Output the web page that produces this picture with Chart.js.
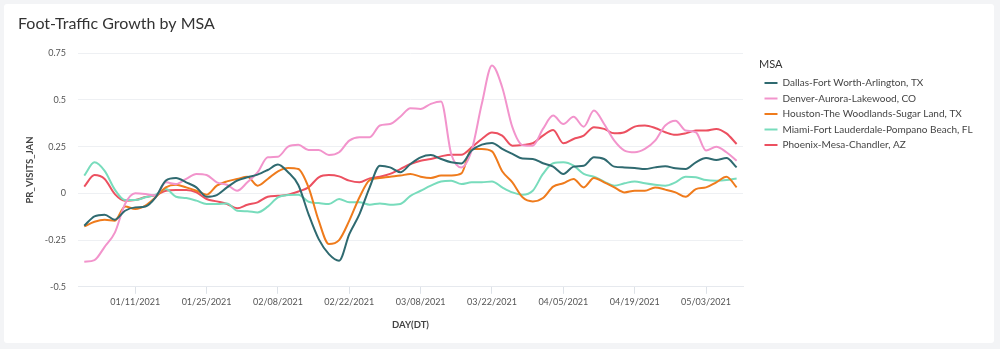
<!DOCTYPE html>
<html>
<head>
<meta charset="utf-8">
<script src="https://cdn.jsdelivr.net/npm/chart.js@4.4.1/dist/chart.umd.min.js"></script>
<style>
    html, body { margin: 0; padding: 0; background: #f3f4f6; }
    #card { position: absolute; left: 4px; top: 4px; width: 990px; height: 339px; background: #fff; border-radius: 3px; }
    #wrap { position: absolute; left: 0; top: 0; width: 1000px; height: 349px; }
</style>
</head>
<body>
<div id="card"></div>
<div id="wrap"><canvas id="chart" width="1000" height="349"></canvas></div>
<script>
// one value every 2 days, starting 2021-01-01
const START_DATE = "2021-01-01";
const STEP_DAYS = 2;

const msaNames = [
    "Dallas-Fort Worth-Arlington, TX",
    "Denver-Aurora-Lakewood, CO",
    "Houston-The Woodlands-Sugar Land, TX",
    "Miami-Fort Lauderdale-Pompano Beach, FL",
    "Phoenix-Mesa-Chandler, AZ"
];
const msaColors = ["#2f6a70", "#f294cc", "#ef7b1c", "#78dcbc", "#ec5060"];

const dallas = [
    -0.173, -0.123, -0.114, -0.141, -0.093, -0.075, -0.070, -0.021, 0.068, 0.082,
    0.059, 0.032, -0.018, -0.009, 0.032, 0.068, 0.086, 0.100, 0.125, 0.154,
    0.113, 0.045, -0.111, -0.245, -0.325, -0.360, -0.218, -0.111, 0.032, 0.148,
    0.139, 0.113, 0.157, 0.193, 0.205, 0.184, 0.166, 0.160, 0.229, 0.261,
    0.270, 0.238, 0.211, 0.186, 0.184, 0.161, 0.143, 0.104, 0.143, 0.148,
    0.193, 0.184, 0.143, 0.139, 0.136, 0.130, 0.139, 0.145, 0.134, 0.130,
    0.166, 0.189, 0.179, 0.189, 0.139
];
const denver = [
    -0.366, -0.357, -0.286, -0.210, -0.057, 0.000, -0.004, -0.012, 0.059, 0.050,
    0.077, 0.104, 0.098, 0.059, 0.046, 0.014, 0.059, 0.112, 0.193, 0.196,
    0.250, 0.260, 0.232, 0.232, 0.205, 0.220, 0.282, 0.300, 0.300, 0.363,
    0.371, 0.410, 0.455, 0.452, 0.479, 0.492, 0.211, 0.139, 0.229, 0.479,
    0.684, 0.568, 0.354, 0.258, 0.255, 0.345, 0.416, 0.371, 0.410, 0.357,
    0.443, 0.371, 0.282, 0.229, 0.220, 0.238, 0.282, 0.363, 0.389, 0.336,
    0.327, 0.229, 0.250, 0.220, 0.175
];
const houston = [
    -0.177, -0.152, -0.141, -0.146, -0.070, -0.084, -0.066, -0.021, 0.032, 0.046,
    0.032, 0.014, -0.007, 0.041, 0.064, 0.077, 0.089, 0.041, 0.077, 0.118,
    0.136, 0.130, 0.032, -0.146, -0.271, -0.250, -0.146, -0.021, 0.071, 0.082,
    0.089, 0.095, 0.104, 0.089, 0.082, 0.095, 0.096, 0.107, 0.238, 0.238,
    0.225, 0.118, 0.059, -0.021, -0.043, -0.025, 0.036, 0.054, 0.077, 0.032,
    0.082, 0.059, 0.032, 0.005, 0.014, 0.014, 0.032, 0.020, 0.005, -0.018,
    0.023, 0.032, 0.059, 0.089, 0.032
];
const miami = [
    0.095, 0.166, 0.120, 0.020, -0.036, -0.036, -0.021, -0.007, 0.023, -0.018,
    -0.025, -0.039, -0.057, -0.057, -0.054, -0.093, -0.096, -0.102, -0.071, -0.021,
    -0.009, -0.007, -0.045, -0.052, -0.057, -0.030, -0.048, -0.048, -0.061, -0.054,
    -0.061, -0.057, -0.013, 0.014, 0.041, 0.064, 0.068, 0.050, 0.059, 0.059,
    0.064, 0.032, 0.005, -0.007, 0.014, 0.104, 0.161, 0.166, 0.148, 0.104,
    0.089, 0.063, 0.041, 0.054, 0.064, 0.054, 0.046, 0.041, 0.059, 0.089,
    0.086, 0.071, 0.068, 0.071, 0.080
];
const phoenix = [
    0.036, 0.098, 0.077, -0.004, -0.040, -0.036, -0.020, -0.010, 0.014, 0.018,
    0.018, 0.005, -0.030, -0.043, -0.057, -0.080, -0.061, -0.048, -0.018, -0.013,
    -0.007, 0.010, 0.032, 0.086, 0.098, 0.091, 0.068, 0.059, 0.080, 0.089,
    0.104, 0.130, 0.157, 0.175, 0.184, 0.198, 0.207, 0.207, 0.246, 0.291,
    0.325, 0.309, 0.255, 0.259, 0.268, 0.309, 0.339, 0.268, 0.291, 0.309,
    0.354, 0.345, 0.321, 0.327, 0.357, 0.363, 0.350, 0.327, 0.313, 0.321,
    0.336, 0.336, 0.345, 0.321, 0.264
];
const seriesValues = [dallas, denver, houston, miami, phoenix];

const tickLabels = ["01/11/2021", "01/25/2021", "02/08/2021", "02/22/2021", "03/08/2021",
    "03/22/2021", "04/05/2021", "04/19/2021", "05/03/2021"];

const DAY_MS = 86400000;
const startMs = Date.parse(START_DATE + "T00:00:00Z");

function dayOf(label) {
    const [m, d, y] = label.split("/");
    return (Date.parse(`${y}-${m}-${d}T00:00:00Z`) - startMs) / DAY_MS;
}
const tickDays = tickLabels.map(dayOf);

const font = "Lato, 'Liberation Sans', sans-serif";

const datasets = seriesValues.map((vals, i) => ({
    label: msaNames[i],
    data: vals.map((v, j) => ({ x: j * STEP_DAYS, y: v })),
    borderColor: msaColors[i],
    backgroundColor: msaColors[i],
    borderWidth: 2,
    pointRadius: 0,
    cubicInterpolationMode: "monotone",
    fill: false
}));

// legend: fixed width so the plot ends where the reference's does, then nudge it right
const LEGEND_WIDTH = 257;
const LEGEND_SHIFT = 16;
const legendPlace = {
    id: "legendPlace",
    beforeLayout(chart) {
        const lg = chart.legend;
        if (lg && !lg._fixedWidth) {
            const fit = lg.fit.bind(lg);
            lg.fit = function () { fit(); this.width = LEGEND_WIDTH; };
            lg._fixedWidth = true;
        }
    },
    afterLayout(chart) {
        chart.legend.left += LEGEND_SHIFT;
        chart.legend.right += LEGEND_SHIFT;
    }
};

new Chart(document.getElementById("chart"), {
    type: "line",
    data: { datasets },
    plugins: [legendPlace],
    options: {
        responsive: false,
        animation: false,
        layout: { padding: { left: 18, right: 0, top: 14, bottom: 14 } },
        plugins: {
            title: {
                display: true,
                text: "Foot-Traffic Growth by MSA",
                align: "start",
                color: "#333",
                font: { family: font, size: 16, weight: "normal" },
                padding: { top: 0, bottom: 20 }
            },
            legend: {
                position: "right",
                align: "start",
                title: {
                    display: true,
                    text: "MSA",
                    position: "start",
                    color: "#333",
                    font: { family: font, size: 11 },
                    padding: { top: 45, bottom: 0.3 }
                },
                labels: {
                    boxWidth: 13,
                    boxHeight: 2,
                    padding: 5.5,
                    color: "#444",
                    font: { family: font, size: 10 },
                    generateLabels(chart) {
                        return Chart.defaults.plugins.legend.labels.generateLabels(chart)
                            .map(l => ({ ...l, lineWidth: 0, fillStyle: l.strokeStyle }));
                    }
                }
            },
            tooltip: { enabled: false }
        },
        scales: {
            x: {
                type: "linear",
                min: -1.23,
                max: 129.25,
                afterBuildTicks: s => { s.ticks = tickDays.map(v => ({ value: v })); },
                ticks: {
                    callback: (v, i) => tickLabels[i],
                    color: "#555",
                    font: { family: font, size: 9 },
                    maxRotation: 0,
                    autoSkip: false,
                    padding: 3
                },
                grid: { drawOnChartArea: false, drawTicks: true, tickLength: 7, color: "#dde2e8" },
                border: { display: true, color: "#e6e9ee" },
                title: {
                    display: true,
                    text: "DAY(DT)",
                    color: "#444",
                    font: { family: font, size: 9.5, weight: "bold" },
                    padding: { top: 9 }
                }
            },
            y: {
                min: -0.5,
                max: 0.75,
                afterFit: s => { s.width = 60; },
                ticks: {
                    stepSize: 0.25,
                    callback: v => String(Math.round(v * 100) / 100),
                    color: "#555",
                    font: { family: font, size: 9 },
                    padding: 12
                },
                grid: { color: "#eef0f3", drawTicks: false },
                border: { display: false },
                title: {
                    display: true,
                    text: "PR_VISITS_JAN",
                    color: "#444",
                    font: { family: font, size: 9.5, weight: "bold" },
                    padding: { top: 6 }
                }
            }
        }
    }
});
</script>
</body>
</html>
